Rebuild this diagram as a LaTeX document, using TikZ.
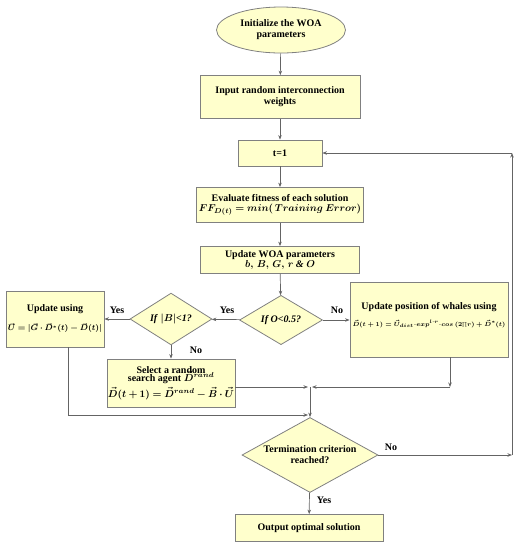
\documentclass[tikz,border=0pt]{standalone}
\usepackage{amsmath,amssymb,bm}
\usepackage{fontspec}
\setmainfont{Liberation Serif}
\usetikzlibrary{arrows.meta,shapes.geometric}

\definecolor{boxfill}{RGB}{255,255,204}
\definecolor{boxline}{RGB}{128,128,128}
\definecolor{flowline}{RGB}{100,100,100}

\tikzset{
  every node/.style={font=\fontsize{10}{11}\selectfont\bfseries},
  stepbox/.style={draw=boxline,fill=boxfill,line width=0.8pt,inner sep=2pt,align=center},
  startbox/.style={stepbox,ellipse},
  testbox/.style={stepbox,diamond,inner sep=0pt},
  flow/.style={draw=flowline,line width=0.7pt,-{Stealth[length=4.5pt,width=3.5pt]}},
  tag/.style={inner sep=1pt}
}

\begin{document}
\begin{tikzpicture}[x=1pt,y=-1pt]
  \useasboundingbox (0,0) rectangle (521,550);

  % main column
  \node[startbox,minimum width=129pt,minimum height=46pt] (init) at (281,30) {Initialize the WOA\\parameters};
  \node[stepbox,minimum width=160pt,minimum height=43pt] (input) at (280,97) {Input random interconnection\\weights};
  \node[stepbox,minimum width=84pt,minimum height=26pt] (tone) at (280,153) {t=1};
  \node[stepbox,minimum width=166pt,minimum height=35pt] (eval) at (280,205) {Evaluate fitness of each solution\\[-1pt]
    $\boldsymbol{FF_{D(t)} = min(\,Training\ Error)}$};
  \node[stepbox,minimum width=159pt,minimum height=27pt,inner sep=1pt] (upd) at (280,260) {Update WOA parameters\\[-1pt]
    $\boldsymbol{b,\,B,\,G,\,r}$ \textit{\&} $\boldsymbol{O}$};
  \node[testbox,minimum width=83pt,minimum height=45pt] (ifo) at (281,320) {\textit{If O<0.5?}};

  % right branch
  \node[stepbox,minimum width=158pt,minimum height=75pt] (whale) at (429,320) {};
  \node[align=center] (whaletxt) at (429,315) {Update position of whales using\\[6pt]
    {\fontsize{6.5}{7}\selectfont$\boldsymbol{\vec{D}(t+1) = \vec{U}_{dist}{\cdot}exp^{l\cdot r}{\cdot}cos\ (2{\scriptstyle\prod} r) + \vec{D}^{*}(t)}$}};

  % left branch
  \node[testbox,minimum width=82pt,minimum height=46pt] (ifb) at (171,319) {\textit{If} $\boldsymbol{|B|}$\textit{<1?}};
  \node[stepbox,minimum width=96pt,minimum height=56pt] (updu) at (55,319) {Update using\\[8pt]
    {\fontsize{7.6}{9}\selectfont$\boldsymbol{\vec{U} = |\vec{G}\cdot\vec{D}^{*}(t) - \vec{D}(t)|}$}};
  \node[stepbox,minimum width=123pt,minimum height=48pt,inner sep=1pt] (sel) at (171,383) {Select a random\\[-3pt]
    search agent $\boldsymbol{\vec{D}}^{\boldsymbol{rand}}$\\[3pt]
    $\boldsymbol{\vec{D}(t+1) = \vec{D}^{rand} - \vec{B}\cdot\vec{U}}$};

  % end
  \node[testbox,minimum width=136pt,minimum height=75pt,shape aspect=1.8,inner sep=-5pt] (term) at (310,455) {Termination criterion\\reached?};
  \node[stepbox,minimum width=148pt,minimum height=27pt] (out) at (309,528) {Output optimal solution};

  % helper points
  \coordinate (mergea) at (310,387);
  \coordinate (mergeb) at (310,415);
  \coordinate (loopa) at (512,455);
  \coordinate (loopb) at (512,153);
  \coordinate (whaleout) at (450,357);
  \coordinate (upduout) at (68,347);

  % connectors
  \draw[flow] (init) -- (input);
  \draw[flow] (input) -- (tone);
  \draw[flow] (tone) -- (eval);
  \draw[flow] (eval) -- (upd);
  \draw[flow] (upd) -- (ifo);
  \draw[flow] (ifo) -- (whale);
  \draw[flow] (ifo) -- (ifb);
  \draw[flow] (ifb) -- (updu);
  \draw[flow] (ifb) -- (sel);
  \draw[flow] (sel.east |- mergea) -- ([xshift=-2pt]mergea);
  \draw[flow] (whaleout) -- (whaleout |- mergea);
  \draw[flow] (whaleout |- mergea) -- ([xshift=2pt]mergea);
  \draw[flow] (mergea) -- (term);
  \draw[flow] (upduout) |- ([xshift=-2pt]mergeb);
  \draw[flow] (term) -- (loopa);
  \draw[flow] (loopa) -- (loopb);
  \draw[flow] (loopb) -- (tone);
  \draw[flow] (term) -- (out);

  % branch labels
  \node[tag] (nowhale) at (337,310) {No};
  \node[tag] (yesb) at (227,310) {Yes};
  \node[tag] (yesu) at (117,310) {Yes};
  \node[tag] (nosel) at (196,350) {No};
  \node[tag] (noloop) at (391,447) {No};
  \node[tag] (yesout) at (324,500) {Yes};
\end{tikzpicture}
\end{document}
